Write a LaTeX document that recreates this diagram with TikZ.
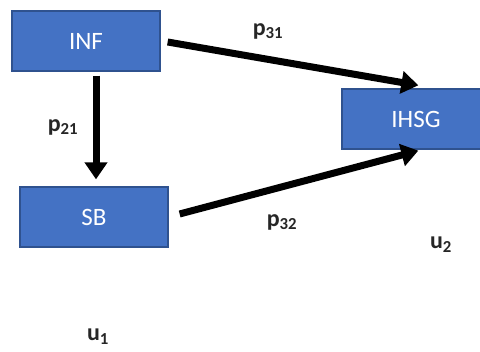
\documentclass[tikz,border=0pt]{standalone}
\usepackage{fontspec}
\setmainfont{Carlito}
\usetikzlibrary{arrows.meta,calc}
\definecolor{boxfill}{HTML}{4472C4}
\definecolor{boxline}{HTML}{2F528F}
\tikzset{
  var/.style={rectangle, fill=boxfill, draw=boxline, line width=1.3pt,
    minimum width=148pt, minimum height=60pt, inner sep=0pt,
    text=white, font=\fontsize{25}{28}\selectfont},
  path/.style={line width=7pt, -{Triangle[length=17pt,width=22pt]}},
  coef/.style={font=\bfseries\fontsize{24}{26}\selectfont, text=black!85}
}
\begin{document}
\begin{tikzpicture}[x=1pt,y=-1pt]
  \useasboundingbox (0,0) rectangle (480,352);
  % variables
  \node[var] (inf)  at (86,41)   {INF};
  \node[var] (sb)   at (94,217)  {SB};
  \node[var] (ihsg) at (416,119) {IHSG};
  % paths
  \draw[path] ($(inf.south)+(10,4)$) -- ($(sb.north)+(2,-7)$);
  \draw[path] ($(inf.east)+(7,1)$) -- ($(ihsg.north west)+(77,-3)$);
  \draw[path] ($(sb.east)+(11,-3)$) -- ($(ihsg.south west)+(77,1)$);
  % coefficients and disturbances
  \node[coef] (p31) at (268,31)  {p\textsubscript{31}};
  \node[coef] (p21) at (63,127)  {p\textsubscript{21}};
  \node[coef] (p32) at (282,222) {p\textsubscript{32}};
  \node[coef] (u2)  at (441,245) {u\textsubscript{2}};
  \node[coef] (u1)  at (98,337)  {u\textsubscript{1}};
\end{tikzpicture}
\end{document}
